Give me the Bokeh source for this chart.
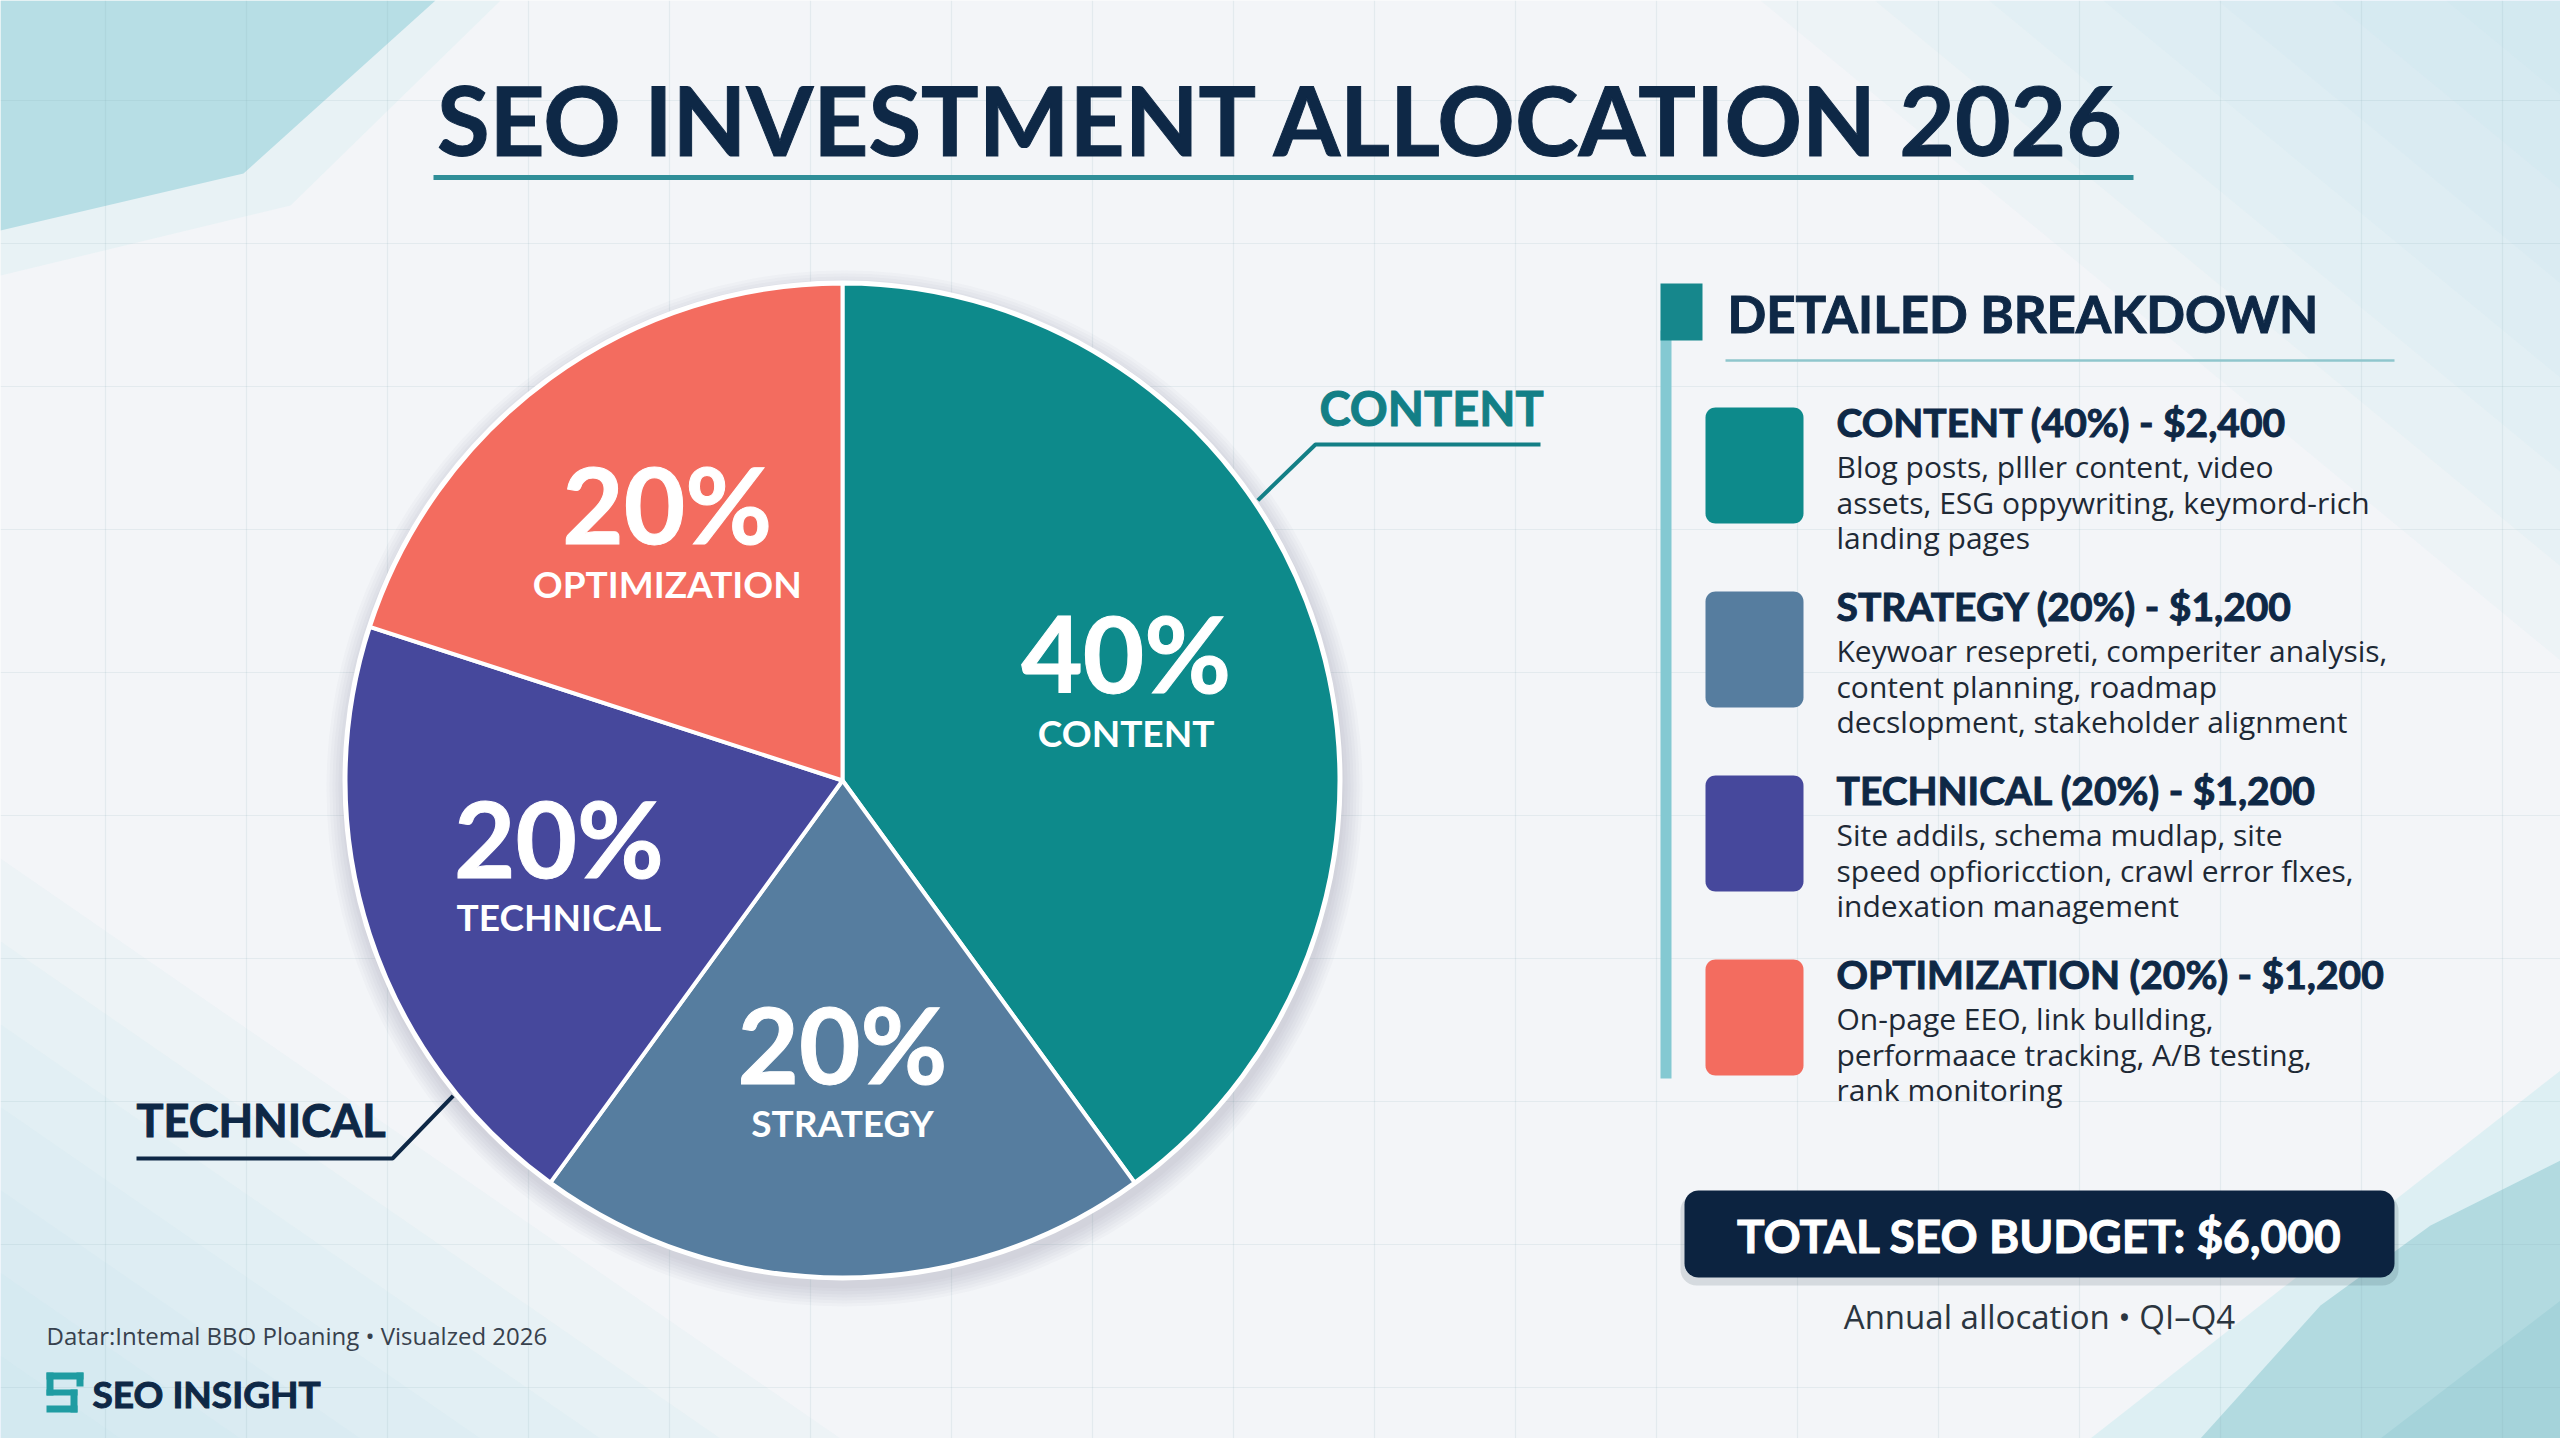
import numpy as np
from bokeh.plotting import figure
from bokeh.models import Range1d
from bokeh.core.properties import value
from bokeh.embed import file_html
from bokeh.resources import INLINE

# ---------------- data ----------------
categories = ["CONTENT", "STRATEGY", "TECHNICAL", "OPTIMIZATION"]
shares = [40, 20, 20, 20]                 # percent of budget
amounts = [2400, 1200, 1200, 1200]        # USD
slice_colors = ["#0d8a8b", "#567d9f", "#46489c", "#f36c5f"]
descriptions = [
    ["Blog posts, plller content, video",
     "assets, ESG oppywriting, keymord-rich",
     "landing pages"],
    ["Keywoar resepreti, comperiter analysis,",
     "content planning, roadmap",
     "decslopment, stakeholder alignment"],
    ["Site addils, schema mudlap, site",
     "speed opfioricction, crawl error flxes,",
     "indexation management"],
    ["On-page EEO, link bullding,",
     "performaace tracking, A/B testing,",
     "rank monitoring"],
]
title_text = "SEO INVESTMENT ALLOCATION 2026"
panel_title = "DETAILED BREAKDOWN"
period_text = "Annual allocation \u2022 QI\u2013Q4"
source_text = "Datar:Intemal BBO Ploaning \u2022 Visualzed 2026"
brand_text = "SEO INSIGHT"

# ---------------- canvas ----------------
W, H = 2560, 1438
HEAD = value("Lato")
BODY = value("Open Sans")
NAVY = "#0e2846"
BG = "#f3f5f8"


def T(y):
    """convert a top-down pixel row into the upward data axis"""
    return H - y


def rounded_box(x0, y0, x1, y1, r, n=10):
    # corners given top-down; returns a closed outline in data coords
    b, t = T(y1), T(y0)
    pts = [(x1 - r, t - r, 0, 90), (x0 + r, t - r, 90, 180),
           (x0 + r, b + r, 180, 270), (x1 - r, b + r, 270, 360)]
    xs, ys = [], []
    for cx, cy, a0, a1 in pts:
        a = np.radians(np.linspace(a0, a1, n))
        xs += list(cx + r * np.cos(a))
        ys += list(cy + r * np.sin(a))
    return xs, ys


p = figure(width=W, height=H, x_range=Range1d(0, W), y_range=Range1d(0, H),
           output_backend="svg", toolbar_location=None, min_border=0)
p.axis.visible = False
p.grid.visible = False
p.outline_line_color = None
p.background_fill_color = BG
p.border_fill_color = BG

# ---------------- background decoration ----------------
# soft corner glows built from stacked translucent triangles
for k in range(7):
    s = 1 - k / 7
    # top-right
    p.patch([W, W - 800 * s, W], [H, H, H - 660 * s], fill_color="#b9e0e8", fill_alpha=0.1, line_color=None)
    # bottom-left
    p.patch([0, 840 * s, 0], [0, 0, 580 * s], fill_color="#b9e0e8", fill_alpha=0.1, line_color=None)

# top-left tinted panels
p.patch([0, 500, 290, 0], [T(0), T(0), T(205), T(275)], fill_color="#e2f1f4", fill_alpha=0.7, line_color=None)
p.patch([0, 435, 243, 0], [T(0), T(0), T(173), T(230)], fill_color="#b7dee5", line_color=None)
# bottom-right panels
p.patch([2560, 2090, 2560], [T(1070), T(1438), T(1438)], fill_color="#d7edf1", fill_alpha=0.8, line_color=None)
p.patch([2560, 2430, 2320, 2200, 2560], [T(1160), T(1225), T(1305), T(1438), T(1438)],
        fill_color="#b2dae0", line_color=None)
p.patch([2560, 2380, 2560], [T(1300), T(1438), T(1438)], fill_color="#a5d3da", line_color=None)

# faint layout grid
gx = [105 + 141 * k for k in range(18)]
gy = [100 + 143 * k for k in range(10)]
p.segment(x0=gx, y0=[0] * len(gx), x1=gx, y1=[H] * len(gx),
          line_color="#7f9fac", line_alpha=0.13, line_width=1.2)
p.segment(x0=[0] * len(gy), y0=[T(v) for v in gy], x1=[W] * len(gy), y1=[T(v) for v in gy],
          line_color="#7f9fac", line_alpha=0.13, line_width=1.2)

# ---------------- title ----------------
p.text(x=[1282], y=[T(118)], text=[title_text], text_font=HEAD, text_font_style="bold",
       text_font_size="96px", text_color=NAVY, text_outline_color=NAVY,
       text_align="center", text_baseline="middle")
p.segment(x0=[433], y0=[T(177)], x1=[2133], y1=[T(177)], line_color="#2f8e98", line_width=5)

# ---------------- pie ----------------
cx, cy, R = 842, T(780), 497
frac = np.array(shares, dtype=float) / sum(shares)
cum = np.concatenate([[0.0], np.cumsum(frac)])
ang_from = np.pi / 2 - 2 * np.pi * cum[:-1]   # clockwise from 12 o'clock
ang_to = np.pi / 2 - 2 * np.pi * cum[1:]

# soft shadow
for k in range(7):
    p.circle(x=[cx + 2], y=[cy - 8], radius=R + 3 + 3 * k, fill_color="#4a5663",
             fill_alpha=0.028, line_color=None)
p.circle(x=[cx], y=[cy], radius=R + 3, fill_color="#ffffff", line_color=None)
p.wedge(x=cx, y=cy, radius=R, start_angle=list(ang_to), end_angle=list(ang_from),
        fill_color=slice_colors, line_color="#ffffff", line_width=4)

mid = (ang_from + ang_to) / 2
rl = 0.6 * R
lx = cx + rl * np.cos(mid)
ly = cy + rl * np.sin(mid)
p.text(x=list(lx), y=list(ly + 36), text=[f"{s}%" for s in shares], text_font=HEAD,
       text_font_style="bold", text_font_size="106px", text_color="#ffffff",
       text_outline_color="#ffffff", text_align="center", text_baseline="middle")
p.text(x=list(lx), y=list(ly - 44), text=categories, text_font=HEAD,
       text_font_style="bold", text_font_size="37px", text_color="#ffffff",
       text_align="center", text_baseline="middle")

# callouts with elbow leaders
callouts = [(0, 34, 1319, 407, 1540, "#137f86", "47px"), (2, 219, 136, 1119, 392, NAVY, "45px")]
for idx, deg, tx, ty, tx_end, col, fs in callouts:
    a = np.radians(deg)
    px, py = cx + (R + 4) * np.cos(a), cy + (R + 4) * np.sin(a)
    if tx > cx:
        p.line([px, tx - 4, tx_end], [py, T(ty + 37), T(ty + 37)], line_color=col, line_width=4)
    else:
        p.line([px, tx_end, tx], [py, T(ty + 39), T(ty + 39)], line_color=col, line_width=4)
    p.text(x=[tx], y=[T(ty)], text=[categories[idx]], text_font=HEAD, text_font_style="bold",
           text_font_size=fs, text_color=col, text_outline_color=col,
           text_align="left", text_baseline="middle")

# ---------------- breakdown panel ----------------
p.quad(left=[1660], right=[1671], top=[T(330)], bottom=[T(1078)], fill_color="#84c9d2", line_color=None)
p.quad(left=[1660], right=[1702], top=[T(283)], bottom=[T(340)], fill_color="#16878c", line_color=None)
p.text(x=[1727], y=[T(313)], text=[panel_title], text_font=HEAD, text_font_style="bold",
       text_font_size="51px", text_color=NAVY, text_outline_color=NAVY,
       text_align="left", text_baseline="middle")
p.segment(x0=[1725], y0=[T(360)], x1=[2394], y1=[T(360)], line_color="#8fc6cd", line_width=2.5)

step = 184
sw_x, sw_y = [], []
for i in range(len(categories)):
    top = 407 + step * i
    xs, ys = rounded_box(1705, top, 1803, top + 116, 10)
    sw_x.append(xs)
    sw_y.append(ys)
p.patches(sw_x, sw_y, fill_color=slice_colors, line_color=None)

heads = [f"{c} ({s}%) - ${a:,}" for c, s, a in zip(categories, shares, amounts)]
p.text(x=[1836] * len(heads), y=[T(421 + step * i) for i in range(len(heads))], text=heads,
       text_font=HEAD, text_font_style="bold", text_font_size="39px", text_color=NAVY,
       text_outline_color=NAVY, text_align="left", text_baseline="middle")
dx, dy, dt = [], [], []
for i, lines in enumerate(descriptions):
    for j, line in enumerate(lines):
        dx.append(1836)
        dy.append(T(466 + step * i + 35.5 * j))
        dt.append(line)
p.text(x=dx, y=dy, text=dt, text_font=BODY, text_font_size="30px", text_color="#1e2935",
       text_align="left", text_baseline="middle")

# ---------------- total box ----------------
total = sum(amounts)
sx, sy = rounded_box(1680, 1194, 2398, 1285, 16)
p.patch(sx, sy, fill_color="#24364a", fill_alpha=0.14, line_color=None)
bx, by = rounded_box(1684, 1190, 2394, 1277, 14)
p.patch(bx, by, fill_color="#0c2340", line_color=None)
p.text(x=[2039], y=[T(1235)], text=[f"TOTAL SEO BUDGET: ${total:,}"], text_font=HEAD,
       text_font_style="bold", text_font_size="46px", text_color="#ffffff",
       text_outline_color="#ffffff", text_align="center", text_baseline="middle")
p.text(x=[2039], y=[T(1316)], text=[period_text], text_font=BODY, text_font_size="33px",
       text_color="#2b3540", text_align="center", text_baseline="middle")

# ---------------- footer ----------------
p.text(x=[46], y=[T(1335)], text=[source_text], text_font=BODY, text_font_size="24px",
       text_color="#37414d", text_align="left", text_baseline="middle")
# brand mark: stepped "S" built from blocks
ml = [46, 46, 46, 70, 46, 76]
mr = [83, 53, 77, 77, 77, 83]
mt = [1372, 1372, 1389, 1389, 1405, 1372]
mb = [1379, 1395, 1395, 1412, 1412, 1386]
p.quad(left=ml, right=mr, top=[T(v) for v in mt], bottom=[T(v) for v in mb],
       fill_color="#1f9ca2", line_color=None)
p.text(x=[92], y=[T(1393)], text=[brand_text], text_font=HEAD, text_font_style="bold",
       text_font_size="37px", text_color=NAVY, text_outline_color=NAVY,
       text_align="left", text_baseline="middle")

open("out.html", "w").write(file_html(p, INLINE))
